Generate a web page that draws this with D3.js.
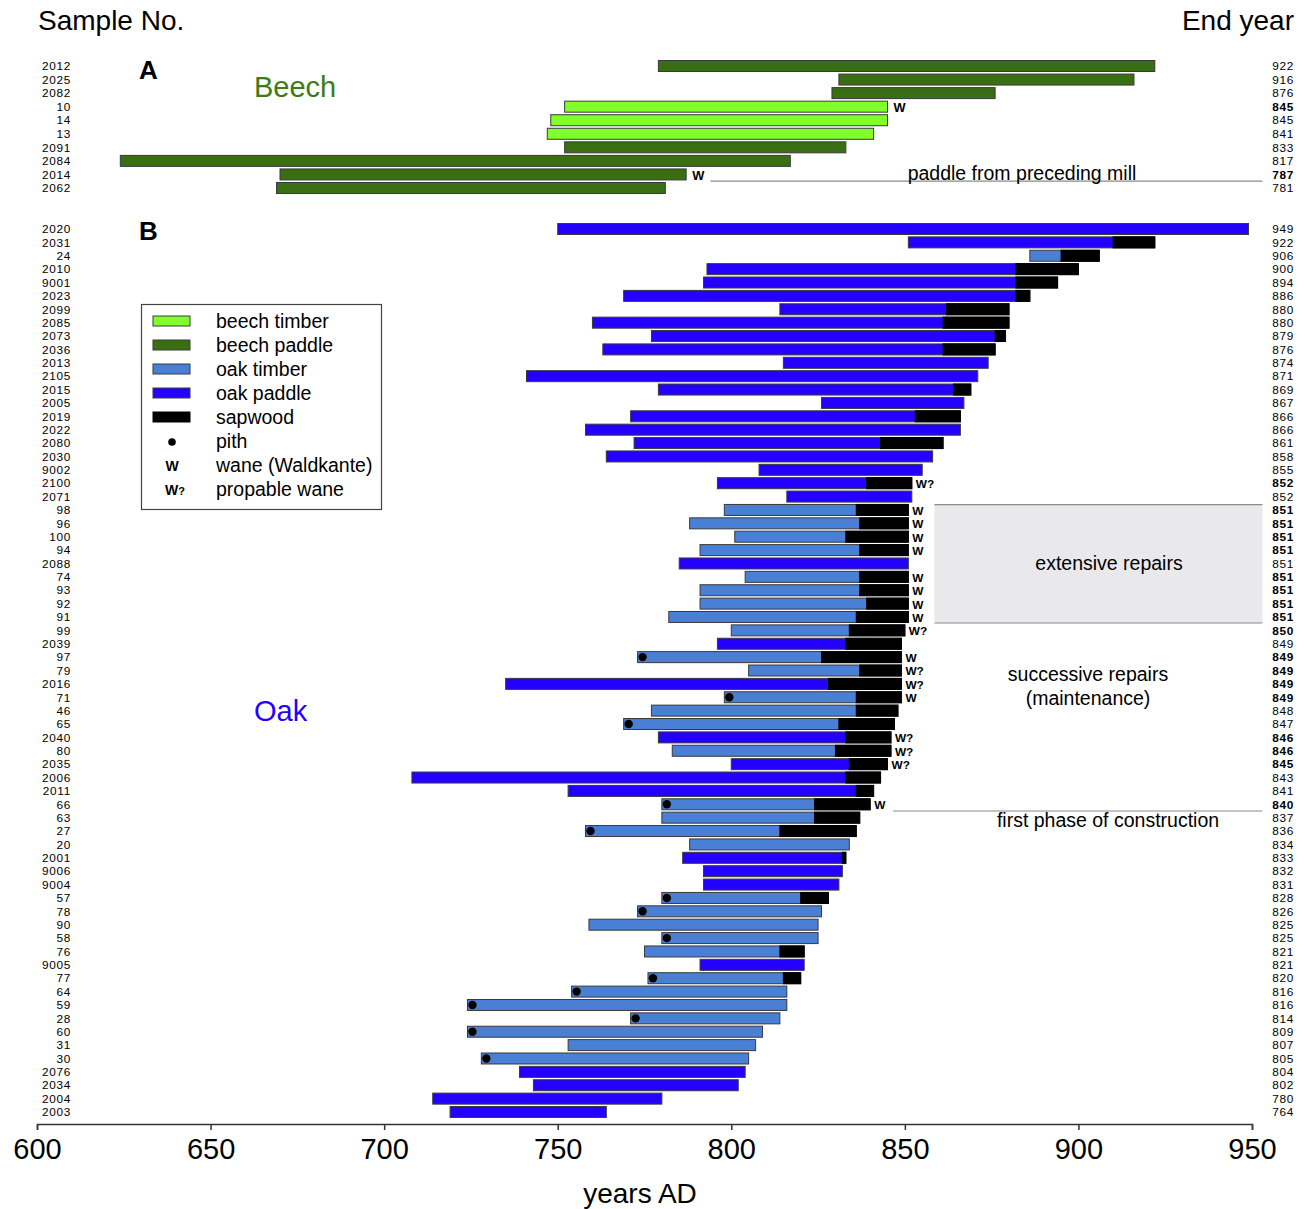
<!DOCTYPE html>
<html><head><meta charset="utf-8">
<script src="https://cdn.jsdelivr.net/npm/d3@7"></script>
<style>
body{margin:0;background:#fff;}
svg text{font-family:"Liberation Sans",Arial,sans-serif;}
</style></head>
<body><svg id="c" width="1305" height="1209"></svg>
<script>
// ---------- Beech (A) ----------
const beechSamples = ["2012","2025","2082","10","14","13","2091","2084","2014","2062"];
const beechStart   = [779, 831, 829, 752, 748, 747, 752, 624, 670, 669];
const beechEnd     = [922, 916, 876, 845, 845, 841, 833, 817, 787, 781];
const beechType    = ["paddle","paddle","paddle","timber","timber","timber","paddle","paddle","paddle","paddle"];
const beechWane    = ["","","","W","","","","","W",""];

// ---------- Oak (B) ----------
const oakSamples = ["2020","2031","24","2010","9001","2023","2099","2085","2073","2036","2013","2105","2015","2005","2019","2022","2080","2030","9002","2100","2071","98","96","100","94","2088","74","93","92","91","99","2039","97","79","2016","71","46","65","2040","80","2035","2006","2011","66","63","27","20","2001","9006","9004","57","78","90","58","76","9005","77","64","59","28","60","31","30","2076","2034","2004","2003"];
const oakStart = [750,851,886,793,792,769,814,760,777,763,815,741,779,826,771,758,772,764,808,796,816,798,788,801,791,785,804,791,791,782,800,796,773,805,735,798,777,769,779,783,800,708,753,780,780,758,788,786,792,792,780,773,759,780,775,791,776,754,724,771,724,753,728,739,743,714,719];
const oakSapStart = [null,910,895,882,882,882,862,861,876,861,null,null,864,null,853,null,843,null,null,839,null,836,837,833,837,null,837,837,839,836,834,833,826,837,828,836,836,831,833,830,834,833,836,824,824,814,null,832,null,null,820,null,null,null,814,null,815,null,null,null,null,null,null,null,null,null,null];
const oakEnd = [949,922,906,900,894,886,880,880,879,876,874,871,869,867,866,866,861,858,855,852,852,851,851,851,851,851,851,851,851,851,850,849,849,849,849,849,848,847,846,846,845,843,841,840,837,836,834,833,832,831,828,826,825,825,821,821,820,816,816,814,809,807,805,804,802,780,764];
const oakType = ["paddle","paddle","timber","paddle","paddle","paddle","paddle","paddle","paddle","paddle","paddle","paddle","paddle","paddle","paddle","paddle","paddle","paddle","paddle","paddle","paddle","timber","timber","timber","timber","paddle","timber","timber","timber","timber","timber","paddle","timber","timber","paddle","timber","timber","timber","paddle","timber","paddle","paddle","paddle","timber","timber","timber","timber","paddle","paddle","paddle","timber","timber","timber","timber","timber","paddle","timber","timber","timber","timber","timber","timber","timber","paddle","paddle","paddle","paddle"];
const oakPith = ["97","71","65","66","27","57","78","58","77","64","59","28","60","30"];
const oakWane = {"2100":"W?","98":"W","96":"W","100":"W","94":"W","74":"W","93":"W","92":"W","91":"W","99":"W?","97":"W","79":"W?","2016":"W?","71":"W","2040":"W?","80":"W?","2035":"W?","66":"W"};

const xTicks = [600,650,700,750,800,850,900,950];

const legendLabels = ["beech timber","beech paddle","oak timber","oak paddle","sapwood","pith","wane (Waldkante)","propable wane"];

const colors = {
  "beech timber":"#80ff2a",
  "beech paddle":"#3a6e12",
  "oak timber":"#4a7fd6",
  "oak paddle":"#2400ff",
  "sapwood":"#000000"
};

// ---------- drawing ----------
const svg = d3.select("#c");
const x = d3.scaleLinear().domain([600,950]).range([37,1252]);
const yA = d3.scalePoint().domain(d3.range(beechSamples.length)).range([66,188]);
const yB = d3.scalePoint().domain(d3.range(oakSamples.length)).range([229,1112]);
const BH = 11;
const stroke = "#3a3a3a";
const LFS = 11.8;   // side label font size
const LLS = 0.7;    // side label letter spacing
const WFS = 11.8;   // wane mark font size

// annotations background (grey box)
const stepB = yB.step();
svg.append("rect").attr("x", x(858.5)).attr("y", yB(21)-stepB*0.4)
  .attr("width", x(953)-x(858.5)).attr("height", yB(29)-yB(21)+stepB*0.85)
  .attr("fill","#e9e9ec");
[yB(21)-stepB*0.4, yB(29)+stepB*0.45].forEach(yy=>{
  svg.append("line").attr("x1",x(858.5)).attr("x2",x(953)).attr("y1",yy).attr("y2",yy)
    .attr("stroke","#8a8a8a").attr("stroke-width",1.2);
});

// headers
svg.append("text").attr("x",38).attr("y",30).attr("font-size",28).text("Sample No.");
svg.append("text").attr("x",1294).attr("y",30).attr("font-size",28).attr("text-anchor","end").text("End year");
svg.append("text").attr("x",139).attr("y",79).attr("font-size",26).attr("font-weight","bold").text("A");
svg.append("text").attr("x",139).attr("y",240).attr("font-size",26).attr("font-weight","bold").text("B");
svg.append("text").attr("x",254).attr("y",97).attr("font-size",29).attr("fill","#3d7b14").text("Beech");
svg.append("text").attr("x",254).attr("y",721).attr("font-size",29).attr("fill","#2400ff").text("Oak");

function sideLabel(xx, yy, txt, bold) {
  svg.append("text").attr("x",xx).attr("y",yy).attr("dy","0.36em").attr("text-anchor","end")
    .attr("font-size",LFS).attr("letter-spacing",LLS).attr("font-weight", bold ? "bold":"normal").text(txt);
}

// Beech bars
beechSamples.forEach((s,i)=>{
  const yy = yA(i);
  sideLabel(71, yy, s, false);
  sideLabel(1294, yy, beechEnd[i], !!beechWane[i]);
  svg.append("rect").attr("x",x(beechStart[i])).attr("y",yy-BH/2).attr("width",x(beechEnd[i])-x(beechStart[i])).attr("height",BH)
    .attr("fill",colors["beech "+beechType[i]]).attr("stroke",stroke).attr("stroke-width",1);
  if (beechWane[i]) svg.append("text").attr("x",x(beechEnd[i])+6).attr("y",yy).attr("dy","0.42em")
    .attr("font-size",WFS+1).attr("font-weight","bold").text(beechWane[i]);
});

// Oak bars
oakSamples.forEach((s,i)=>{
  const yy = yB(i);
  const w = oakWane[s] || "";
  sideLabel(71, yy, s, false);
  sideLabel(1294, yy, oakEnd[i], !!w);
  svg.append("rect").attr("x",x(oakStart[i])).attr("y",yy-BH/2).attr("width",x(oakEnd[i])-x(oakStart[i])).attr("height",BH)
    .attr("fill",colors["oak "+oakType[i]]).attr("stroke",stroke).attr("stroke-width",1);
  if (oakSapStart[i] !== null) {
    svg.append("rect").attr("x",x(oakSapStart[i])).attr("y",yy-BH/2).attr("width",x(oakEnd[i])-x(oakSapStart[i])).attr("height",BH)
      .attr("fill","#000").attr("stroke","#000").attr("stroke-width",1);
  }
  if (oakPith.includes(s)) {
    svg.append("circle").attr("cx",x(oakStart[i])+5).attr("cy",yy).attr("r",4.2).attr("fill","#000");
  }
  if (w) svg.append("text").attr("x",x(oakEnd[i])+4).attr("y",yy).attr("dy","0.42em")
    .attr("font-size",WFS).attr("font-weight","bold").text(w);
});

// annotation lines and texts
svg.append("line").attr("x1",x(794)).attr("x2",x(953)).attr("y1",(yA(8)+yA(9))/2).attr("y2",(yA(8)+yA(9))/2)
  .attr("stroke","#8a8a8a").attr("stroke-width",1.2);
svg.append("text").attr("x",1022).attr("y",180).attr("text-anchor","middle").attr("font-size",19.5).text("paddle from preceding mill");

const lineY = (yB(43)+yB(44))/2;
svg.append("line").attr("x1",x(846.6)).attr("x2",x(953)).attr("y1",lineY).attr("y2",lineY)
  .attr("stroke","#8a8a8a").attr("stroke-width",1.2);
svg.append("text").attr("x",1108).attr("y",827).attr("text-anchor","middle").attr("font-size",19.5).text("first phase of construction");

svg.append("text").attr("x",1109).attr("y",570).attr("text-anchor","middle").attr("font-size",19.5).text("extensive repairs");
svg.append("text").attr("x",1088).attr("y",681).attr("text-anchor","middle").attr("font-size",19.5).text("successive repairs");
svg.append("text").attr("x",1088).attr("y",705).attr("text-anchor","middle").attr("font-size",19.5).text("(maintenance)");

// legend
const lg = svg.append("g");
lg.append("rect").attr("x",141.5).attr("y",304.5).attr("width",240).attr("height",205).attr("fill","#fff").attr("stroke","#444").attr("stroke-width",1.2);
legendLabels.forEach((lab,i)=>{
  const yy = 321 + i*24;
  if (colors[lab]) {
    lg.append("rect").attr("x",153).attr("y",yy-5).attr("width",37).attr("height",10)
      .attr("fill",colors[lab]).attr("stroke", lab==="sapwood" ? "#000" : stroke).attr("stroke-width",1);
  } else if (lab==="pith") {
    lg.append("circle").attr("cx",172).attr("cy",yy+1).attr("r",3.8).attr("fill","#000");
  } else if (lab==="wane (Waldkante)") {
    lg.append("text").attr("x",172).attr("y",yy).attr("dy","0.45em").attr("text-anchor","middle").attr("font-size",14).attr("font-weight","bold").text("W");
  } else {
    const t = lg.append("text").attr("x",175).attr("y",yy).attr("dy","0.45em").attr("text-anchor","middle").attr("font-size",14).attr("font-weight","bold");
    t.append("tspan").text("W");
    t.append("tspan").attr("font-size",11).text("?");
  }
  lg.append("text").attr("x",216).attr("y",yy).attr("dy","0.35em").attr("font-size",19.5).text(lab);
});

// x axis
const ax = svg.append("g").attr("transform","translate(0,1124)")
  .call(d3.axisBottom(x).tickValues(xTicks).tickSize(6).tickPadding(8).tickFormat(d3.format("d")));
ax.select(".domain").attr("stroke","#333").attr("stroke-width",1.5);
ax.selectAll(".tick line").attr("stroke","#333").attr("stroke-width",1.5);
ax.selectAll(".tick text").attr("font-size",29).attr("fill","#000").attr("font-family","Liberation Sans, Arial, sans-serif");
svg.append("text").attr("x",640).attr("y",1203).attr("text-anchor","middle").attr("font-size",28).text("years AD");
</script></body></html>
